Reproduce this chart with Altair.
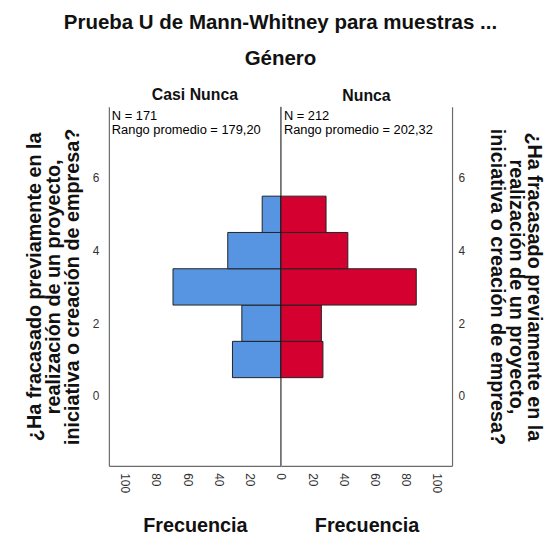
import altair as alt
import pandas as pd

# ---- data ----
rating = [1, 2, 3, 4, 5]
casi_nunca = [31, 25, 69, 34, 12]
nunca = [27, 26, 87, 43, 29]

groups = ["Casi Nunca", "Nunca"]
n_values = [171, 212]
rango_promedio = ["179,20", "202,32"]

x_ticks_left = [0, 20, 40, 60, 80, 100]
x_ticks_right = [20, 40, 60, 80, 100]
y_ticks = [0, 2, 4, 6]

y_title = [
    "¿Ha fracasado previamente en la",
    "realización de un proyecto,",
    "iniciativa o creación de empresa?",
]

BLUE = "#5795E2"
RED = "#D40030"
FONT = "Liberation Sans"
W_LEFT, W_RIGHT, H = 174, 173, 363
Y_DOMAIN = [-1.93, 7.96]
X_DOMAIN = [0, 110]


def panel(values, color, reverse, idx, y_orient):
    df = pd.DataFrame({"valor": rating, "frecuencia": values})
    base = alt.Chart(df).transform_calculate(
        lo="datum.valor - 0.5", hi="datum.valor + 0.5"
    )
    common_y = dict(
        orient=y_orient, values=y_ticks, ticks=False, grid=False,
        domain=True, domainColor="#6b6b6b", domainWidth=1.2,
        labelFontSize=12, labelColor="#333333",
        title=y_title, titleFontSize=20, titleFontWeight="bold",
        titleColor="#111111", titleLineHeight=19,
    )
    if y_orient == "left":
        y_axis = alt.Axis(labelPadding=10, titlePadding=10, **common_y)
    else:
        y_axis = alt.Axis(labelPadding=6, titlePadding=22, **common_y)
    x_axis = alt.Axis(
        values=x_ticks_left if reverse else x_ticks_right,
        labelAngle=90, ticks=False, grid=False, labelOverlap=False,
        labelFlush=False, labelBound=False,
        domain=True, domainColor="#6b6b6b", domainWidth=1.2,
        labelFontSize=12, labelColor="#333333", labelPadding=7,
        title="Frecuencia", titleFontSize=20, titleFontWeight="bold",
        titleColor="#111111", titlePadding=23,
    )
    x_scale = alt.Scale(domain=X_DOMAIN, reverse=reverse, nice=False)
    bars = base.mark_bar(color=color, stroke="#222222", strokeWidth=1).encode(
        x=alt.X("frecuencia:Q", scale=x_scale, axis=x_axis),
        x2=alt.datum(0),
        y=alt.Y("lo:Q", scale=alt.Scale(domain=Y_DOMAIN, nice=False, zero=False),
                axis=y_axis),
        y2="hi:Q",
    )
    layers = [bars]
    if reverse:
        center = alt.Chart(pd.DataFrame({"c": [0]})).mark_rule(
            color="black", strokeWidth=1
        ).encode(x=alt.XDatum(0, type="quantitative", scale=x_scale, axis=x_axis))
        layers.append(center)
    info = pd.DataFrame({
        "t": [[f"N = {n_values[idx]}", f"Rango promedio = {rango_promedio[idx]}"]]
    })
    note = alt.Chart(info).mark_text(
        align="left", baseline="top", fontSize=13, lineHeight=14,
        font=FONT, color="black",
    ).encode(x=alt.value(3), y=alt.value(3), text="t")
    layers.append(note)
    return alt.layer(*layers).properties(
        width=W_LEFT if reverse else W_RIGHT, height=H,
        title=alt.TitleParams(groups[idx], fontSize=16, fontWeight="bold",
                              color="#111111", anchor="middle", offset=3),
    )


left = panel(casi_nunca, BLUE, True, 0, "left")
right = panel(nunca, RED, False, 1, "right")

chart = alt.hconcat(left, right, spacing=0, bounds="flush").properties(
    title=alt.TitleParams(
        "Prueba U de Mann-Whitney para muestras ...",
        subtitle="Género",
        fontSize=20.7, fontWeight="bold", color="#111111",
        subtitleFontSize=20.7, subtitleFontWeight="bold", subtitleColor="#111111",
        subtitlePadding=15, anchor="middle", offset=18, dx=-4,
    ),
    padding={"left": 16, "top": 1, "right": 0, "bottom": 0},
).configure(font=FONT).configure_view(stroke="transparent")

chart.save("out.html", embed_options={"renderer": "svg", "actions": False})
